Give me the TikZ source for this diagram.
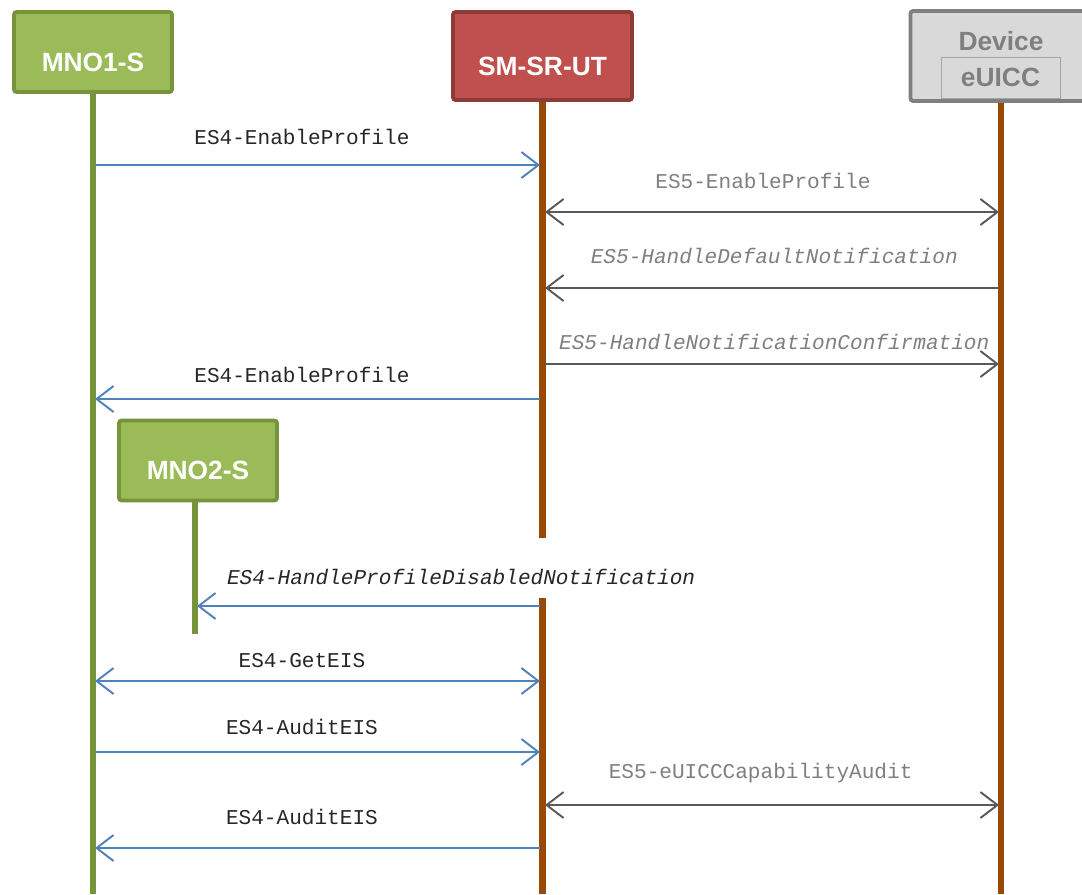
\documentclass[tikz,border=0pt]{standalone}
\usepackage{fontspec}
\setmainfont{Liberation Sans}
\newfontfamily\msgfont{Liberation Mono}
\usetikzlibrary{positioning,arrows.meta}
\definecolor{SeqGreen}{HTML}{9BBB59}
\definecolor{SeqGreenDark}{HTML}{77933C}
\definecolor{SeqRed}{HTML}{C0504D}
\definecolor{SeqRedDark}{HTML}{8E3B38}
\definecolor{SeqBrown}{HTML}{984807}
\definecolor{SeqGreyFill}{HTML}{D9D9D9}
\definecolor{SeqGrey}{HTML}{7F7F7F}
\definecolor{SeqBlue}{HTML}{4F81BD}
\definecolor{SeqArrowGrey}{HTML}{595959}
\definecolor{SeqInk}{HTML}{262626}
\tikzset{
  seq actor/.style={
    line width=2.2pt,
    rounded corners=1.5pt,
    align=center,
    font=\fontsize{15}{18}\selectfont\bfseries,
    inner sep=0pt,
    text height=22pt,
    text depth=0pt
  },
  seq mno/.style={seq actor, fill=SeqGreen, draw=SeqGreenDark, text=white, minimum width=3.16cm, minimum height=1.6cm},
  seq smsr/.style={seq actor, fill=SeqRed, draw=SeqRedDark, text=white, minimum width=3.58cm, minimum height=1.76cm},
  seq device/.style={seq actor, fill=SeqGreyFill, draw=SeqGrey, text=SeqGrey, minimum width=3.62cm, minimum height=1.8cm},
  seq euicc/.style={draw=SeqGrey!70, line width=0.5pt, fill=SeqGreyFill, text=SeqGrey, font=\fontsize{15}{18}\selectfont\bfseries, minimum width=2.38cm, minimum height=0.82cm, inner sep=0pt},
  seq life green/.style={SeqGreenDark, line width=3.4pt},
  seq life brown/.style={SeqBrown, line width=3.6pt},
  seq es4/.style={SeqBlue, line width=1.1pt, -{Straight Barb[length=3.4mm,width=5.2mm]}},
  seq es4 both/.style={SeqBlue, line width=1.1pt, {Straight Barb[length=3.4mm,width=5.2mm]}-{Straight Barb[length=3.4mm,width=5.2mm]}},
  seq es5/.style={SeqArrowGrey, line width=1.1pt, -{Straight Barb[length=3.4mm,width=5.2mm]}},
  seq es5 both/.style={SeqArrowGrey, line width=1.1pt, {Straight Barb[length=3.4mm,width=5.2mm]}-{Straight Barb[length=3.4mm,width=5.2mm]}},
  seq label/.style={font=\msgfont\fontsize{12}{14}\selectfont, text=SeqInk, inner sep=0pt},
  seq label grey/.style={seq label, text=SeqGrey}
}

\begin{document}
\begin{tikzpicture}[x=0.02cm, y=-0.02cm]
\useasboundingbox (0,0) rectangle (1082,894);
\clip (0,0) rectangle (1082,894);

% actors
\node[seq mno] (mno1) at (93,52) {MNO1-S};
\node[seq smsr] (smsr) at (542.5,56) {SM-SR-UT};
\node[seq device] (device) at (1001,56) {};
\node[font=\fontsize{15}{18}\selectfont\bfseries, text=SeqGrey] (devname) at (1001,41) {Device};
\node[seq euicc] (euicc) at (1000.5,77.5) {eUICC};
\node[seq mno] (mno2) at (198,460.5) {MNO2-S};

% lifelines
\coordinate (mno1 end) at (93,894);
\coordinate (smsr cut) at (542.5,538);
\coordinate (smsr resume) at (542.5,598);
\coordinate (smsr end) at (542.5,894);
\coordinate (device end) at (1001,894);
\coordinate (mno2 end) at (195,634);
\draw[seq life green] (mno1.south) -- (mno1 end);
\draw[seq life brown] (smsr.south) -- (smsr cut);
\draw[seq life brown] (smsr resume) -- (smsr end);
\draw[seq life brown] (device.south -| device end) -- (device end);
\draw[seq life green] (mno2.south -| mno2 end) -- (mno2 end);

% message ends
\coordinate (m1a) at (95,165);   \coordinate (m1b) at (540,165);
\coordinate (m2a) at (545,212);  \coordinate (m2b) at (999,212);
\coordinate (m3a) at (999,288);  \coordinate (m3b) at (545,288);
\coordinate (m4a) at (545,364);  \coordinate (m4b) at (999,364);
\coordinate (m5a) at (540,399);  \coordinate (m5b) at (95,399);
\coordinate (m6a) at (540,606);  \coordinate (m6b) at (197,606);
\coordinate (m7a) at (95,681);   \coordinate (m7b) at (540,681);
\coordinate (m8a) at (95,752);   \coordinate (m8b) at (540,752);
\coordinate (m9a) at (545,805);  \coordinate (m9b) at (999,805);
\coordinate (m10a) at (540,848); \coordinate (m10b) at (95,848);

% messages
\draw[seq es4] (m1a) -- node[seq label, pos=0.465, yshift=16pt] {ES4-EnableProfile} (m1b);
\draw[seq es5 both] (m2a) -- node[seq label grey, pos=0.48, yshift=17.5pt] {ES5-EnableProfile} (m2b);
\draw[seq es5] (m3a) -- node[seq label grey, pos=0.495, yshift=18pt] {\itshape ES5-HandleDefaultNotification} (m3b);
\draw[seq es5] (m4a) -- node[seq label grey, pos=0.505, yshift=12.5pt] {\itshape ES5-HandleNotificationConfirmation} (m4b);
\draw[seq es4] (m5a) -- node[seq label, pos=0.535, yshift=13.5pt] {ES4-EnableProfile} (m5b);
\draw[seq es4] (m6a) -- node[seq label, pos=0.23, yshift=16.5pt] {\itshape ES4-HandleProfileDisabledNotification} (m6b);
\draw[seq es4 both] (m7a) -- node[seq label, pos=0.465, yshift=11.5pt] {ES4-GetEIS} (m7b);
\draw[seq es4] (m8a) -- node[seq label, pos=0.465, yshift=14pt] {ES4-AuditEIS} (m8b);
\draw[seq es5 both] (m9a) -- node[seq label grey, pos=0.475, yshift=18pt] {ES5-eUICCCapabilityAudit} (m9b);
\draw[seq es4] (m10a) -- node[seq label, pos=0.535, yshift=17.5pt] {ES4-AuditEIS} (m10b);
\end{tikzpicture}
\end{document}
